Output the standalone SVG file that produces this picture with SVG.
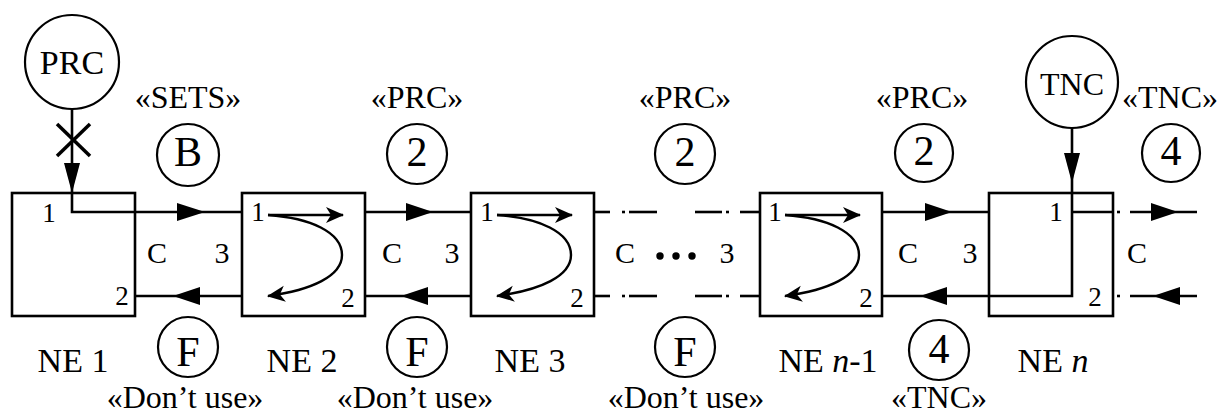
<svg xmlns="http://www.w3.org/2000/svg" width="1223" height="414" viewBox="0 0 1223 414">
<style>
text{fill:#000;text-anchor:middle;font-family:"Liberation Serif","Times New Roman",serif}
.lbl{font-size:32px}
.ne{font-size:34px}
.cir{font-size:42px}
.src{font-size:34px}
.gap{font-size:30px}
.port{font-size:27px}
.box{fill:none;stroke:#000;stroke-width:2.6}
.c{fill:#fff;stroke:#000;stroke-width:2.2}
.ln{fill:none;stroke:#000;stroke-width:2.6}
.thin{fill:none;stroke:#000;stroke-width:2.4}
.ah{fill:#000}
</style>
<defs>
<marker id="sm" viewBox="0 0 18 18" refX="17" refY="9" markerWidth="18" markerHeight="18" markerUnits="userSpaceOnUse" orient="auto">
<path d="M0,1 L18,9 L0,17 L5,9 Z" fill="#000"/>
</marker>
</defs>

<g id="connectors">
<path class="ln" d="M72,109 V212 H242"/>
<line class="ln" x1="57" y1="124" x2="90" y2="156" style="stroke-width:3.5"/>
<line class="ln" x1="90" y1="124" x2="57" y2="156" style="stroke-width:3.5"/>
<polygon class="ah" points="64,163 80,163 72,193"/>
<polygon class="ah" points="177,203 177,221 205,212"/>
<line class="ln" x1="135" y1="296" x2="242" y2="296"/>
<polygon class="ah" points="200,287 200,305 173,296"/>
<line class="ln" x1="365" y1="212" x2="471" y2="212"/>
<polygon class="ah" points="406,203 406,221 433,212"/>
<line class="ln" x1="365" y1="296" x2="471" y2="296"/>
<polygon class="ah" points="428,287 428,305 401,296"/>
<g class="ln">
<line x1="593" y1="212" x2="610" y2="212"/><line x1="622" y1="212" x2="625" y2="212"/><line x1="629" y1="212" x2="657" y2="212"/>
<line x1="695" y1="212" x2="722" y2="212"/><line x1="726" y1="212" x2="729" y2="212"/><line x1="740" y1="212" x2="760" y2="212"/>
<line x1="593" y1="296" x2="610" y2="296"/><line x1="622" y1="296" x2="625" y2="296"/><line x1="629" y1="296" x2="657" y2="296"/>
<line x1="695" y1="296" x2="722" y2="296"/><line x1="726" y1="296" x2="729" y2="296"/><line x1="740" y1="296" x2="760" y2="296"/>
</g>
<line class="ln" x1="882" y1="212" x2="989" y2="212"/>
<polygon class="ah" points="925,203 925,221 952,212"/>
<path class="ln" d="M1072,128 V296 H882"/>
<polygon class="ah" points="1064,153 1080,153 1072,183"/>
<polygon class="ah" points="947,287 947,305 920,296"/>
<line class="ln" x1="1072" y1="212" x2="1113" y2="212"/>
<line class="ln" x1="1117" y1="212" x2="1120" y2="212"/>
<line class="ln" x1="1130" y1="212" x2="1197" y2="212"/>
<polygon class="ah" points="1151,203 1151,221 1178,212"/>
<line class="ln" x1="1117" y1="296" x2="1120" y2="296"/>
<line class="ln" x1="1130" y1="296" x2="1197" y2="296"/>
<polygon class="ah" points="1180,287 1180,305 1153,296"/>
</g>

<g id="ne1">
<rect class="box" x="12" y="193" width="123" height="123"/>
<text class="port" x="49" y="222">1</text>
<text class="port" x="122" y="305">2</text>
<text class="ne" x="73" y="372">NE 1</text>
</g>
<g id="ne2">
<rect class="box" x="242" y="193" width="123" height="123"/>
<text class="port" x="258" y="221">1</text>
<line class="thin" x1="268" y1="215" x2="343" y2="215" marker-end="url(#sm)"/>
<path class="thin" d="M268,215 C310,218 342,232 342,255 C342,276 312,290 268,296" marker-end="url(#sm)"/>
<text class="port" x="348" y="307">2</text>
<text class="ne" x="302" y="372">NE 2</text>
</g>
<g id="ne3">
<rect class="box" x="471" y="193" width="123" height="123"/>
<text class="port" x="487" y="221">1</text>
<line class="thin" x1="497" y1="215" x2="572" y2="215" marker-end="url(#sm)"/>
<path class="thin" d="M497,215 C539,218 571,232 571,255 C571,276 541,290 497,296" marker-end="url(#sm)"/>
<text class="port" x="577" y="307">2</text>
<text class="ne" x="530" y="372">NE 3</text>
</g>
<g id="nen1">
<rect class="box" x="760" y="193" width="122" height="123"/>
<text class="port" x="775" y="221">1</text>
<line class="thin" x1="785" y1="215" x2="860" y2="215" marker-end="url(#sm)"/>
<path class="thin" d="M785,215 C827,218 859,232 859,255 C859,276 829,290 785,296" marker-end="url(#sm)"/>
<text class="port" x="866" y="307">2</text>
<text class="ne" x="828" y="372">NE <tspan font-style="italic">n</tspan>-1</text>
</g>
<g id="nen">
<rect class="box" x="989" y="193" width="124" height="123"/>
<text class="port" x="1056" y="221">1</text>
<text class="port" x="1095" y="306">2</text>
<text class="ne" x="1053" y="372">NE <tspan font-style="italic">n</tspan></text>
</g>

<g id="prc">
<circle class="c" cx="72" cy="62" r="47"/>
<text class="src" x="72" y="74">PRC</text>
</g>
<g id="tnc">
<circle class="c" cx="1072" cy="82" r="46"/>
<text class="src" x="1072" y="95" style="font-size:32px">TNC</text>
</g>

<g id="gaplabels">
<text class="gap" x="157" y="263">C</text><text class="gap" x="222" y="263">3</text>
<text class="gap" x="392" y="263">C</text><text class="gap" x="452" y="263">3</text>
<text class="gap" x="625" y="263">C</text><text class="gap" x="727" y="263">3</text>
<circle cx="660" cy="256" r="3.7"/><circle cx="676" cy="256" r="3.7"/><circle cx="692" cy="256" r="3.7"/>
<text class="gap" x="908" y="263">C</text><text class="gap" x="970" y="263">3</text>
<text class="gap" x="1137" y="263">C</text>
</g>

<g id="top-signals">
<text class="lbl" x="188" y="108">«SETS»</text>
<circle class="c" cx="188" cy="155" r="31"/><text class="cir" x="188" y="166">B</text>
<text class="lbl" x="417" y="108">«PRC»</text>
<circle class="c" cx="417" cy="154" r="30"/><text class="cir" x="417" y="166">2</text>
<text class="lbl" x="685" y="108">«PRC»</text>
<circle class="c" cx="685" cy="154" r="30"/><text class="cir" x="685" y="166">2</text>
<text class="lbl" x="922" y="108">«PRC»</text>
<circle class="c" cx="924" cy="153" r="29"/><text class="cir" x="924" y="165">2</text>
<text class="lbl" x="1170" y="108">«TNC»</text>
<circle class="c" cx="1171" cy="153" r="29"/><text class="cir" x="1171" y="165">4</text>
</g>

<g id="bottom-signals">
<circle class="c" cx="188" cy="347" r="30"/><text class="cir" x="188" y="366">F</text>
<text class="lbl" x="185" y="408">«Don’t use»</text>
<circle class="c" cx="417" cy="347" r="30"/><text class="cir" x="417" y="366">F</text>
<text class="lbl" x="415" y="408">«Don’t use»</text>
<circle class="c" cx="685" cy="347" r="30"/><text class="cir" x="685" y="366">F</text>
<text class="lbl" x="686" y="408">«Don’t use»</text>
<circle class="c" cx="939" cy="350" r="30"/><text class="cir" x="939" y="363">4</text>
<text class="lbl" x="939" y="408">«TNC»</text>
</g>
</svg>
